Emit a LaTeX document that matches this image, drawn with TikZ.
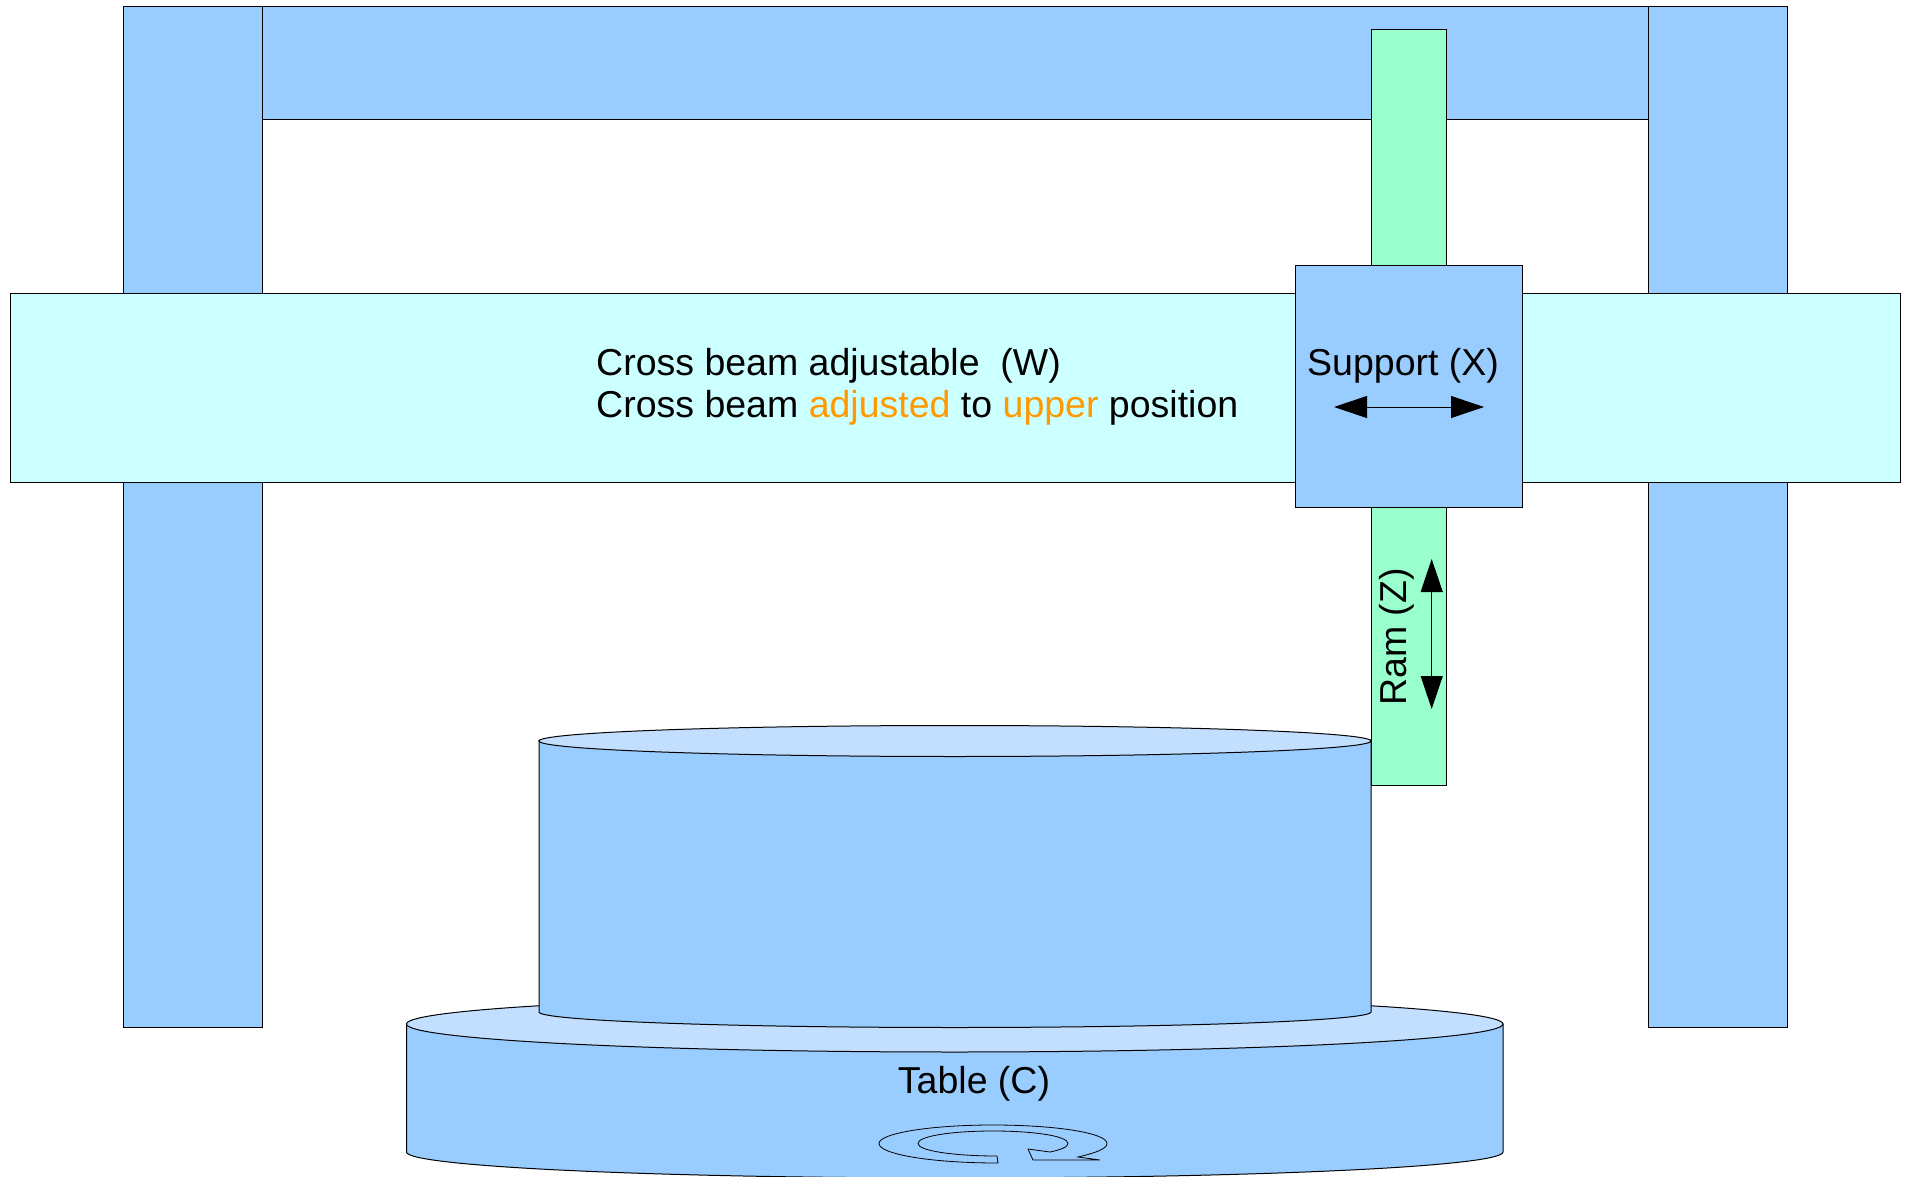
\documentclass[tikz,border=0pt]{standalone}
\usepackage{fontspec}
\setmainfont{Liberation Sans}
\usetikzlibrary{arrows.meta}
\definecolor{partblue}{HTML}{99CCFF}
\definecolor{lightblue}{HTML}{C2DFFF}
\definecolor{beamcyan}{HTML}{CCFFFF}
\definecolor{ramgreen}{HTML}{99FFCC}
\definecolor{labelorange}{HTML}{FF9900}
\tikzset{
  part/.style={draw=black,line width=1pt,line join=miter},
  blue part/.style={part,fill=partblue},
  lid/.style={part,fill=lightblue},
  label text/.style={inner sep=0pt,font=\fontsize{37.5}{37.5}\selectfont,text=black},
  motion/.style={line width=1pt,{Triangle[length=33pt,width=22pt]}-{Triangle[length=33pt,width=22pt]}}
}
\begin{document}
\begin{tikzpicture}[x=1pt,y=-1pt]
\useasboundingbox (0,0) rectangle (1907,1177);
% frame
\draw[blue part] (123.5,6.5) rectangle (262,1027);
\draw[blue part] (1648.5,6.5) rectangle (1787,1027);
\draw[blue part] (262,6.5) rectangle (1648.5,119.5);
% ram, cross beam, support
\draw[part,fill=ramgreen] (1371,29.5) rectangle (1446,785.5);
\draw[part,fill=beamcyan] (10,293.5) rectangle (1900,482.5);
\draw[blue part] (1295,265.5) rectangle (1522,507.5);
% lower table
\draw[blue part] (406.5,1024) -- (406.5,1152) arc[start angle=180,end angle=0,x radius=548.25,y radius=26] -- (1503,1024) -- cycle;
\draw[lid] (954.75,1024) ellipse[x radius=548.25,y radius=28];
% upper table
\draw[blue part] (539,740) -- (539,1012) arc[start angle=180,end angle=0,x radius=416,y radius=15.5] -- (1371,740) -- cycle;
\draw[lid] (955,741) ellipse[x radius=416,y radius=15.5];
% rotation arrow
\draw[part,line width=.8pt] (998,1163) .. controls (930,1163) and (879,1154) .. (879,1143.5)
  .. controls (879,1133.3) and (930,1125) .. (993,1125)
  .. controls (1056,1125) and (1107,1133) .. (1107,1143.5)
  .. controls (1107,1149) and (1095,1153) .. (1078,1157)
  -- (1100,1160) -- (1033,1160) -- (1028,1149) -- (1050,1152)
  .. controls (1060,1150) and (1068,1147) .. (1068,1143.5)
  .. controls (1068,1136) and (1034,1131) .. (993,1131)
  .. controls (952,1131) and (918,1136) .. (918,1143.5)
  .. controls (918,1151) and (955,1156) .. (997,1156) -- cycle;
% motion arrows
\coordinate (xl) at (1334,407);
\coordinate (xr) at (1484,407);
\coordinate (zt) at (1431.7,559);
\coordinate (zb) at (1431.7,709);
\draw[motion] (xl) -- (xr);
\draw[motion] (zt) -- (zb);
% labels
\node[label text,anchor=base west] (beam1) at (596,375.5) {Cross beam adjustable\ \ (W)};
\node[label text,anchor=base west] (beam2) at (596,417.5) {Cross beam \textcolor{labelorange}{adjusted} to \textcolor{labelorange}{upper} position};
\node[label text,anchor=base west] (support) at (1307,375.5) {Support (X)};
\node[label text,anchor=base,rotate=90] (ram) at (1406,637) {Ram (Z)};
\node[label text,anchor=base] (table) at (974,1093) {Table (C)};
\end{tikzpicture}
\end{document}
